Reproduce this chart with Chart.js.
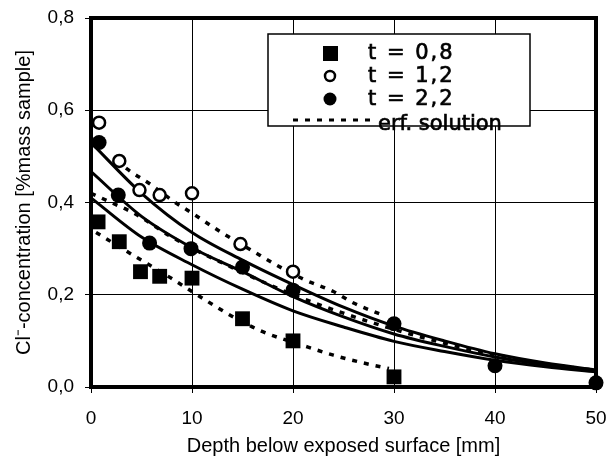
<!DOCTYPE html>
<html>
<head>
<meta charset="utf-8">
<script src="https://cdn.jsdelivr.net/npm/chart.js@4"></script>
<style>
  body { margin: 0; background: #fff; }
</style>
</head>
<body>
<canvas id="myChart" width="610" height="462"></canvas>
<script>
// measured chloride, t = 0,8 / 1,2 / 2,2
const depthT08 = [0.7, 2.8, 4.9, 6.8, 10, 15, 20, 30];
const concT08 = [0.358, 0.315, 0.25, 0.24, 0.236, 0.148, 0.10, 0.022];
const depthT12 = [0.8, 2.8, 4.8, 6.8, 10, 14.8, 20];
const concT12 = [0.573, 0.49, 0.427, 0.416, 0.42, 0.31, 0.25];
const depthT22 = [0.8, 2.7, 5.8, 9.9, 15, 20, 30, 40, 50];
const concT22 = [0.53, 0.416, 0.312, 0.30, 0.26, 0.21, 0.137, 0.046, 0.009];

// solid fitted curves
const fitDepth = [0, 5, 10, 15, 20, 25, 30, 35, 40, 45, 50];
const fitA = [0.53, 0.42, 0.335, 0.275, 0.222, 0.173, 0.132, 0.10, 0.072, 0.052, 0.037];
const fitB = [0.467, 0.37, 0.302, 0.25, 0.196, 0.152, 0.115, 0.088, 0.065, 0.048, 0.035];
const fitC = [0.41, 0.325, 0.265, 0.212, 0.165, 0.13, 0.099, 0.077, 0.058, 0.044, 0.033];

// dotted erf solutions
const erfDepth1 = [2.5, 4, 6, 8, 10, 13, 16, 18, 21, 24, 26, 29];
const erfConc1 = [0.49, 0.466, 0.438, 0.405, 0.377, 0.334, 0.295, 0.269, 0.234, 0.207, 0.182, 0.155];
const erfDepth2 = [0.5, 4, 8, 11, 14, 17, 21, 24, 27, 29.5];
const erfConc2 = [0.335, 0.288, 0.235, 0.193, 0.153, 0.12, 0.09, 0.069, 0.052, 0.04];
const erfDepth3 = [0, 2, 4.4, 8, 11, 13.6, 16.2, 20, 25, 30, 35, 40, 45, 50];
const erfConc3 = [0.42, 0.40, 0.375, 0.325, 0.29, 0.263, 0.236, 0.2, 0.16, 0.125, 0.095, 0.07, 0.05, 0.036];

const legendLabels = ['t = 0,8', 't = 1,2', 't = 2,2', 'erf. solution'];

const pts = (xs, ys) => xs.map((x, i) => ({ x: x, y: ys[i] }));

const curve = (xs, ys, dashed) => ({
  data: pts(xs, ys),
  showLine: true,
  pointRadius: 0,
  borderColor: '#000',
  borderWidth: dashed ? 3.5 : 3,
  borderDash: dashed ? [5, 7] : [],
  cubicInterpolationMode: 'monotone',
  fill: false
});

// frame round the plot
const framePlugin = {
  id: 'frame',
  beforeDatasetsDraw(chart) {
    const a = chart.chartArea, ctx = chart.ctx;
    ctx.save();
    ctx.strokeStyle = '#000';
    ctx.lineWidth = 4;
    ctx.strokeRect(a.left, a.top, a.right - a.left, a.bottom - a.top);
    ctx.restore();
  }
};

// boxed legend like the original
const boxLegend = {
  id: 'boxLegend',
  afterDraw(chart) {
    const ctx = chart.ctx;
    ctx.save();
    ctx.fillStyle = '#fff';
    ctx.fillRect(268, 34, 262, 92);
    ctx.strokeStyle = '#000';
    ctx.lineWidth = 1.5;
    ctx.strokeRect(268, 34, 262, 92);

    ctx.fillStyle = '#000';
    ctx.fillRect(323, 46, 15, 15);

    ctx.beginPath();
    ctx.arc(330, 76, 5, 0, Math.PI * 2);
    ctx.fillStyle = '#fff';
    ctx.fill();
    ctx.lineWidth = 2.5;
    ctx.stroke();

    ctx.beginPath();
    ctx.arc(330, 99, 6.5, 0, Math.PI * 2);
    ctx.fillStyle = '#000';
    ctx.fill();

    ctx.beginPath();
    ctx.setLineDash([5, 7]);
    ctx.lineWidth = 3;
    ctx.moveTo(293, 120);
    ctx.lineTo(376, 120);
    ctx.stroke();
    ctx.setLineDash([]);

    ctx.font = '21px "DejaVu Sans"';
    ctx.textBaseline = 'alphabetic';
    ctx.lineWidth = 0.7;
    const rows = [[368, 59], [368, 82], [368, 105], [378, 130]];
    rows.forEach((p, i) => {
      ctx.letterSpacing = i < 3 ? '2px' : '0px';
      ctx.fillText(legendLabels[i], p[0], p[1]);
      ctx.strokeText(legendLabels[i], p[0], p[1]);
    });
    ctx.restore();
  }
};

const tickFont = { family: '"Liberation Sans", Arial, sans-serif', size: 19 };
const titleFont = { family: '"Liberation Sans", Arial, sans-serif', size: 20 };

new Chart(document.getElementById('myChart'), {
  type: 'scatter',
  data: {
    datasets: [
      { data: pts(depthT08, concT08), pointStyle: 'rect', pointRadius: 10.5, backgroundColor: '#000', borderColor: '#000', borderWidth: 0, clip: false },
      { data: pts(depthT12, concT12), pointStyle: 'circle', pointRadius: 6, backgroundColor: '#fff', borderColor: '#000', borderWidth: 2.5, clip: false },
      { data: pts(depthT22, concT22), pointStyle: 'circle', pointRadius: 7.5, backgroundColor: '#000', borderColor: '#000', borderWidth: 0, clip: false },
      curve(fitDepth, fitA, false),
      curve(fitDepth, fitB, false),
      curve(fitDepth, fitC, false),
      curve(erfDepth1, erfConc1, true),
      curve(erfDepth2, erfConc2, true),
      curve(erfDepth3, erfConc3, true)
    ]
  },
  options: {
    responsive: false,
    animation: false,
    layout: { autoPadding: false, padding: { top: 18, right: 14, left: 0, bottom: 0 } },
    plugins: { legend: { display: false }, tooltip: { enabled: false } },
    scales: {
      x: {
        type: 'linear', min: 0, max: 50,
        ticks: { stepSize: 10, color: '#000', font: tickFont, padding: 14, maxRotation: 0 },
        grid: { color: '#000', lineWidth: 1, tickLength: 6, tickColor: '#000' },
        border: { display: false },
        title: { display: true, text: 'Depth below exposed surface [mm]', color: '#000', font: titleFont, padding: { top: 0, bottom: 4 } },
        afterFit: (s) => { s.height = 75; s.paddingRight = 0; s.paddingLeft = 0; }
      },
      y: {
        min: 0, max: 0.8,
        ticks: { stepSize: 0.2, color: '#000', font: tickFont, padding: 11,
          callback: (v) => v.toFixed(1).replace('.', ',') },
        grid: { color: '#000', lineWidth: 1, tickLength: 6, tickColor: '#000' },
        border: { display: false },
        title: { display: true, text: 'Cl\u207B-concentration [%mass sample]', color: '#000', font: titleFont, padding: { top: 12, bottom: 0 } },
        afterFit: (s) => { s.width = 91; s.paddingTop = 0; s.paddingBottom = 0; }
      }
    }
  },
  plugins: [framePlugin, boxLegend]
});
</script>
</body>
</html>
